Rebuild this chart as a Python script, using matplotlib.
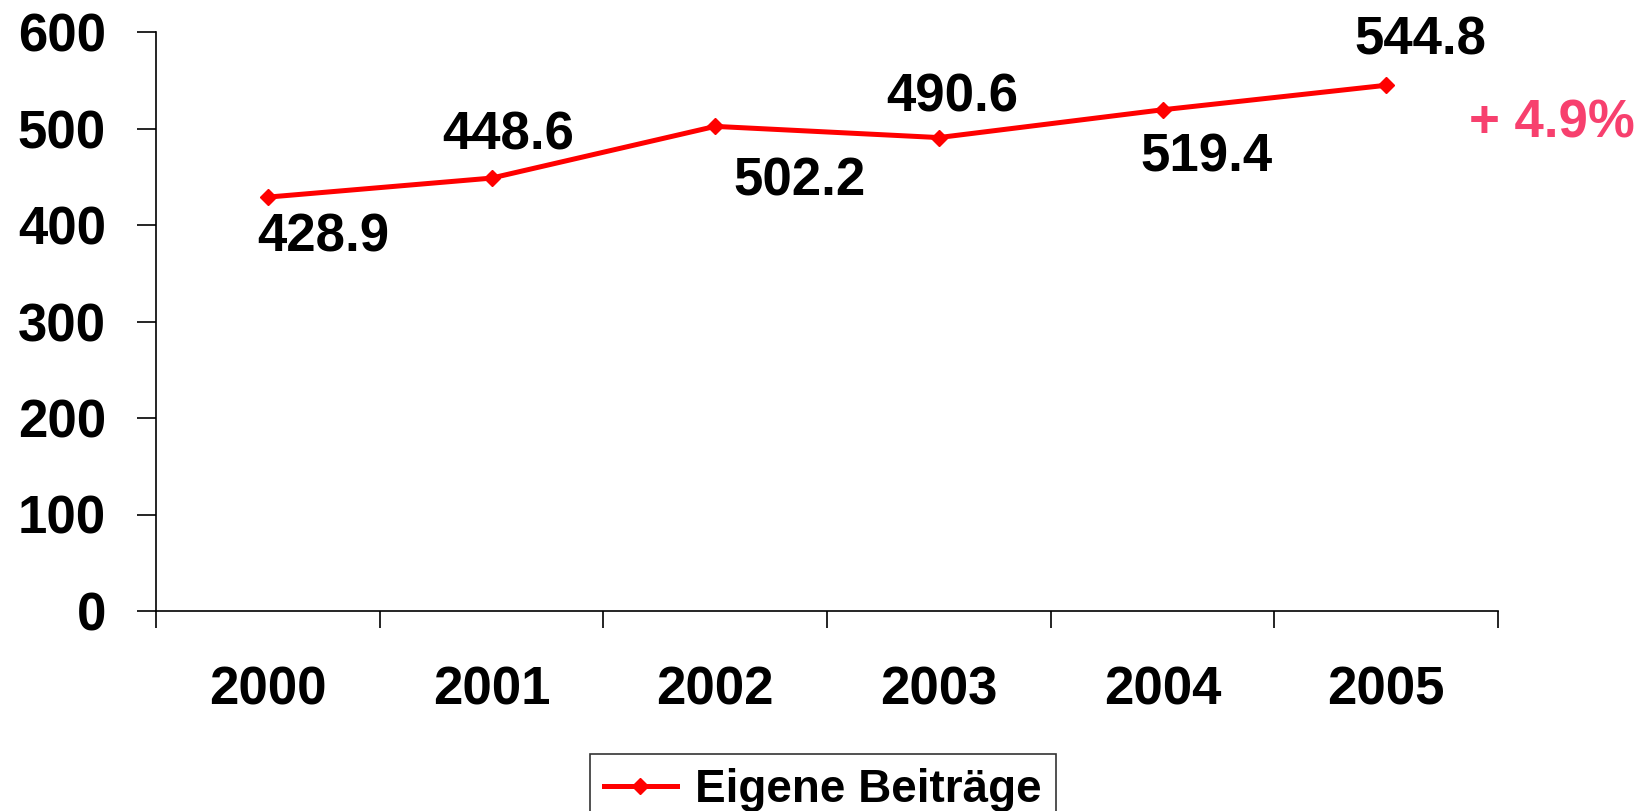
import matplotlib
matplotlib.use("Agg")
import matplotlib.pyplot as plt
from matplotlib.ticker import FixedLocator

years = ["2000", "2001", "2002", "2003", "2004", "2005"]
values = [428.9, 448.6, 502.2, 490.6, 519.4, 544.8]
labels = ["428.9", "448.6", "502.2", "490.6", "519.4", "544.8"]
series_name = "Eigene Beiträge"
growth_text = "+ 4.9%"
yticks = [0, 100, 200, 300, 400, 500, 600]

# label offsets in points (dx, dy)
offsets = [(40, -29), (12, 31), (61, -40), (10, 29), (32, -34), (25, 32)]

plt.rcParams['font.family'] = ['Liberation Sans', 'DejaVu Sans']
plt.rcParams['font.weight'] = 'bold'

fig = plt.figure(figsize=(16.37, 8.11), dpi=100)
ax = fig.add_axes([156/1637, 1-611/811, (1498-156)/1637, (611-32)/811])

x = [i + 0.5 for i in range(len(years))]
line, = ax.plot(x, values, color='#FF0000', lw=3.6, marker='D', ms=8, label=series_name)

for xi, v, lab, (dx, dy) in zip(x, values, labels, offsets):
    ax.annotate(lab, (xi, v), xytext=(dx, dy), textcoords='offset points',
                ha='center', va='center', fontsize=38, fontweight='bold', color='black')

ax.set_xlim(0, 6)
ax.set_ylim(0, 600)
ax.set_yticks(yticks)
ax.set_yticklabels([str(t) for t in yticks], fontsize=38, fontweight='bold')
ax.xaxis.set_major_locator(FixedLocator(list(range(7))))
ax.xaxis.set_minor_locator(FixedLocator(x))
ax.set_xticklabels([], minor=False)
ax.set_xticklabels(years, minor=True, fontsize=38, fontweight='bold')
ax.tick_params(axis='x', which='major', direction='out', length=12, width=1.2, color='black')
ax.tick_params(axis='x', which='minor', length=0, pad=39)
ax.tick_params(axis='y', direction='out', length=14, width=1.2, pad=22)

for s in ['top', 'right']:
    ax.spines[s].set_visible(False)
for s in ['left', 'bottom']:
    ax.spines[s].set_linewidth(1.2)

fig.text(1552/1637, 1-124/811, growth_text, ha='center', va='center',
         fontsize=38, fontweight='bold', color='#F7406E')

leg = fig.legend(handles=[line], loc='upper left', bbox_to_anchor=(590/1637, 1-754/811),
                 fontsize=33, frameon=True, fancybox=False, edgecolor='black',
                 handlelength=1.6, handletextpad=0.4, borderpad=0.3, borderaxespad=0)
leg.get_frame().set_linewidth(1.2)
for t in leg.get_texts():
    t.set_fontweight('bold')

fig.savefig("out.png", dpi=100)
